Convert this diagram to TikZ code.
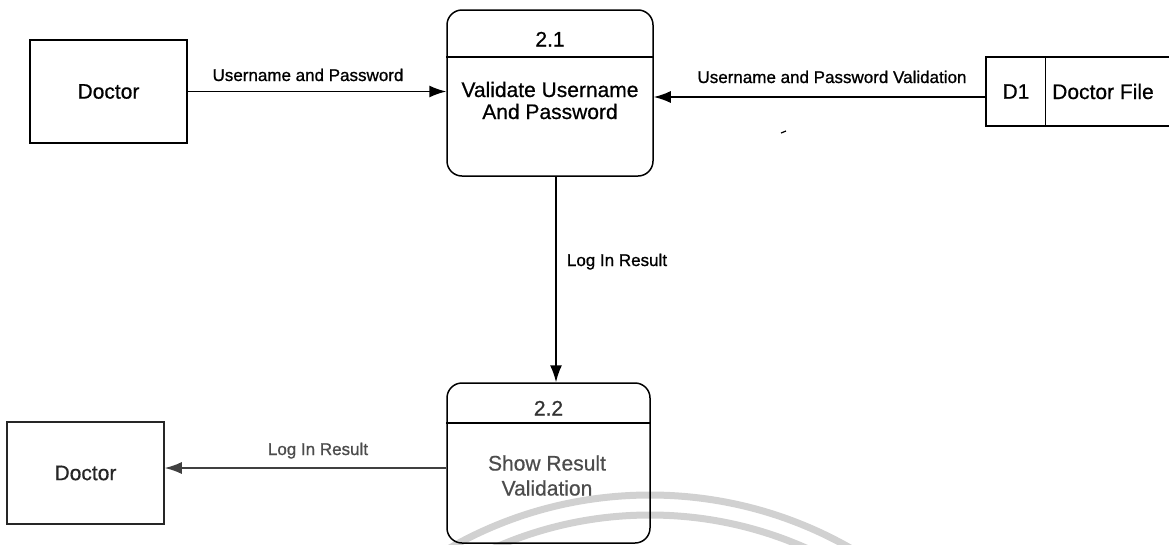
\documentclass[tikz,border=0pt]{standalone}
\usepackage{fontspec}
\setmainfont{Liberation Sans}
% slightly heavier strokes, like toner on a printed page
\newfontfamily\inkfont{Liberation Sans}[FakeBold=0.6]
\newfontfamily\labelfont{Liberation Sans}[FakeBold=1.0]
\usetikzlibrary{arrows.meta}

\begin{document}
\begin{tikzpicture}[x=1pt,y=-1pt,
  entity/.style={draw, line width=1.5pt, inner sep=0pt, font=\inkfont\fontsize{21}{21}\selectfont},
  proc/.style={draw, line width=1.5pt, rounded corners=15pt, inner sep=0pt},
  txt/.style={font=\inkfont\fontsize{21}{21}\selectfont, inner sep=0pt, anchor=base},
  lbl/.style={font=\labelfont\fontsize{17}{17}\selectfont, inner sep=0pt, anchor=base},
  flow/.style={line width=1.5pt, -{Latex[length=17pt,width=12pt]}},
  rule/.style={line width=1.3pt},
  ring/.style={line width=7pt, draw=black!18}]
\useasboundingbox (0,0) rectangle (1169,544);

% faint rings of the background seal
\begin{scope}
  \clip (0,0) rectangle (1169,544);
  \draw[ring] (650,899) circle[radius=404pt];
  \draw[ring] (650,899) circle[radius=384pt];
\end{scope}

% external entities
\node[entity, minimum width=157pt, minimum height=103pt] (doc1) at (108.5,91.5) {Doctor};
\node[entity, minimum width=157pt, minimum height=102pt, draw=black!85, text=black!85] (doc2) at (85.5,473) {Doctor};

% process 2.1
\node[proc, minimum width=206pt, minimum height=166pt] (p21) at (550,93) {};
\draw[rule] (p21.west |- 0,57) -- (p21.east |- 0,57);
\node[txt] (p21n) at (550,46.5) {2.1};
\node[txt] (p21a) at (550,97) {Validate Username};
\node[txt] (p21b) at (550,119) {And Password};

% process 2.2
\node[proc, minimum width=203pt, minimum height=160pt] (p22) at (548.5,463) {};
\draw[rule] (p22.west |- 0,423) -- (p22.east |- 0,423);
\node[txt, text=black!80] (p22n) at (548.5,415.5) {2.2};
\node[txt, text=black!70] (p22a) at (547,470.5) {Show Result};
\node[txt, text=black!70] (p22b) at (547,495.5) {Validation};

% data store D1, open on its right side
\node[minimum width=183pt, minimum height=69pt, inner sep=0pt] (d1) at (1077.5,91.5) {};
\draw[line width=1.5pt] (d1.north east) -- (d1.north west) -- (d1.south west) -- (d1.south east);
\draw[rule] (d1.north west) ++(60,0) coordinate (d1cut) -- (d1cut |- d1.south);
\node[txt, anchor=center] (d1id) at (1016,91.5) {D1};
\node[txt, anchor=center] (d1name) at (1103,91.5) {Doctor File};

% data flows
\draw[flow] (doc1.east) -- (doc1.east -| p21.west);
\node[lbl] (f1) at (308,81) {Username and Password};

\draw[flow] ([yshift=-5.5pt]d1.west) -- ([yshift=-5.5pt]d1.west -| p21.east);
\node[lbl] (f2) at (832,83) {Username and Password Validation};

\draw[flow] ([xshift=6pt]p21.south) -- ([xshift=6pt]p21.south |- p22.north);
\node[lbl] (f3) at (617,266) {Log In Result};

\draw[flow, draw=black!75, fill=black!75] ([yshift=-5pt]p22.west) -- ([yshift=-5pt]p22.west -| doc2.east);
\node[lbl, text=black!70] (f4) at (318,455) {Log In Result};

% small stray mark
\draw[line width=1.2pt] (781,133) -- (786,131);
\end{tikzpicture}
\end{document}
